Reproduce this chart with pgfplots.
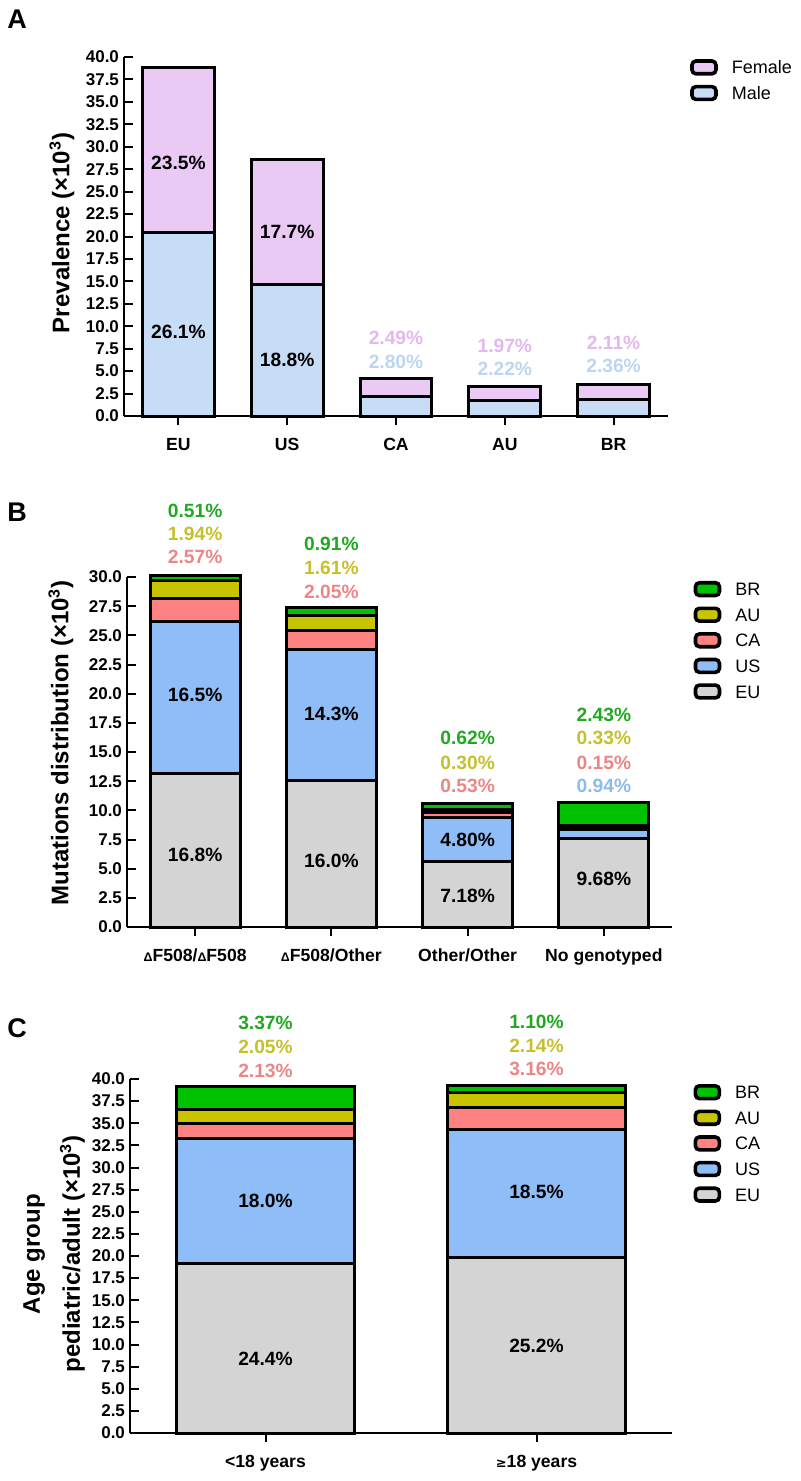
\documentclass[border=0pt]{standalone}
\usepackage{pgfplots}
\pgfplotsset{compat=1.18}
\usepackage{fontspec}
\setmainfont{Liberation Sans}
\newfontfamily\dejavu{DejaVu Sans}

\definecolor{femfill}{HTML}{EBC9F5}
\definecolor{malefill}{HTML}{C7DDF6}
\definecolor{femtxt}{HTML}{E4B8EE}
\definecolor{maletxt}{HTML}{BDD5F0}
\definecolor{eufill}{HTML}{D4D4D4}
\definecolor{usfill}{HTML}{8FBDF8}
\definecolor{cafill}{HTML}{FF8282}
\definecolor{aufill}{HTML}{C8C500}
\definecolor{brfill}{HTML}{00C200}
\definecolor{brtxt}{HTML}{20A820}
\definecolor{autxt}{HTML}{C6C02A}
\definecolor{catxt}{HTML}{EE8585}
\definecolor{ustxt}{HTML}{8DBBEE}

\pgfplotsset{
  panel/.style={
    scale only axis, anchor=south west,
    ybar stacked, bar width=0.66,
    axis lines=left, axis line style={line width=1pt,-},
    tick align=outside, major tick length=4.5pt,
    y tick style={line width=1pt, black, xshift=4.5pt},
    x tick style={line width=1pt, black},
    xtick=data, clip=false, ymin=0,
    tick label style={font=\bfseries\fontsize{8.5}{10}\selectfont},
    yticklabel style={xshift=5.5pt, /pgf/number format/.cd, fixed, fixed zerofill, precision=1, assume math mode=true},
    xticklabel style={yshift=-3pt, font=\bfseries\fontsize{8.8}{10}\selectfont},
    reverse legend, legend cell align=left,
    legend style={draw=none, fill=none, inner sep=0pt, anchor=north west,
      font=\fontsize{9}{10}\selectfont, column sep=7pt, row sep=4.6pt,
      nodes={inner sep=0pt, text height=6.5pt, text depth=0pt}},
  },
  seg/.style={fill=#1, draw=black, line width=1.5pt,
    legend image code/.code={\draw[##1, rounded corners=2pt, line width=1.8pt] (0pt,-3.2pt) rectangle (12pt,3.2pt);}},
}
\newcommand{\pl}[3]{\node[font=\bfseries\fontsize{9.6}{10}\selectfont, text=#3] at (axis cs:#1) {#2};}

\begin{document}
\begin{tikzpicture}
\path[use as bounding box] (0,0) rectangle (400pt,-740.5pt);

% ---- A
\begin{axis}[panel, at={(62pt,-208pt)}, width=272pt, height=179.5pt,
  xmin=-0.5, xmax=4.5, ymax=40,
  ytick={0,2.5,5,7.5,10,12.5,15,17.5,20,22.5,25,27.5,30,32.5,35,37.5,40},
  xticklabels={EU,US,CA,AU,BR},
  legend style={at={(1.04,0.995)}},
  after end axis/.code={
    \pl{0,28.2}{23.5\%}{black}
    \pl{0,9.4}{26.1\%}{black}
    \pl{1,20.5}{17.7\%}{black}
    \pl{1,6.2}{18.8\%}{black}
    \pl{2,8.7}{2.49\%}{femtxt}
    \pl{2,6.0}{2.80\%}{maletxt}
    \pl{3,7.8}{1.97\%}{femtxt}
    \pl{3,5.3}{2.22\%}{maletxt}
    \pl{4,8.1}{2.11\%}{femtxt}
    \pl{4,5.6}{2.36\%}{maletxt}
  }]
\addplot[seg=malefill] coordinates {(0,20.4) (1,14.7) (2,2.19) (3,1.74) (4,1.85)};
\addplot[seg=femfill] coordinates {(0,18.4) (1,13.85) (2,1.95) (3,1.54) (4,1.65)};
\legend{Male,Female}
\end{axis}

% ---- B
\begin{axis}[panel, at={(63.5pt,-463.5pt)}, width=272.5pt, height=175pt,
  xmin=-0.5, xmax=3.5, ymax=30,
  ytick={0,2.5,5,7.5,10,12.5,15,17.5,20,22.5,25,27.5,30},
  xticklabels={{{\fontsize{6.2}{6}\selectfont Δ}F508/{\fontsize{6.2}{6}\selectfont Δ}F508},{{\fontsize{6.2}{6}\selectfont Δ}F508/Other},Other/Other,No genotyped},
  legend style={at={(1.039,0.99)}},
  after end axis/.code={
    \pl{0,35.7}{0.51\%}{brtxt}
    \pl{0,33.7}{1.94\%}{autxt}
    \pl{0,31.7}{2.57\%}{catxt}
    \pl{0,19.9}{16.5\%}{black}
    \pl{0,6.2}{16.8\%}{black}
    \pl{1,32.8}{0.91\%}{brtxt}
    \pl{1,30.8}{1.61\%}{autxt}
    \pl{1,28.7}{2.05\%}{catxt}
    \pl{1,18.3}{14.3\%}{black}
    \pl{1,5.7}{16.0\%}{black}
    \pl{2,16.2}{0.62\%}{brtxt}
    \pl{2,14.1}{0.30\%}{autxt}
    \pl{2,12.1}{0.53\%}{catxt}
    \pl{2,7.5}{4.80\%}{black}
    \pl{2,2.7}{7.18\%}{black}
    \pl{3,18.2}{2.43\%}{brtxt}
    \pl{3,16.2}{0.33\%}{autxt}
    \pl{3,14.1}{0.15\%}{catxt}
    \pl{3,12.1}{0.94\%}{ustxt}
    \pl{3,4.1}{9.68\%}{black}
  }]
\addplot[seg=eufill] coordinates {(0,13.2) (1,12.58) (2,5.64) (3,7.61)};
\addplot[seg=usfill] coordinates {(0,12.97) (1,11.24) (2,3.77) (3,0.74)};
\addplot[seg=cafill] coordinates {(0,2.02) (1,1.61) (2,0.42) (3,0.12)};
\addplot[seg=aufill] coordinates {(0,1.52) (1,1.27) (2,0.24) (3,0.26)};
\addplot[seg=brfill] coordinates {(0,0.40) (1,0.72) (2,0.49) (3,1.91)};
\legend{EU,US,CA,AU,BR}
\end{axis}

% ---- C
\begin{axis}[panel, at={(65pt,-716.5pt)}, width=271pt, height=177pt,
  xmin=-0.5, xmax=1.5, ymax=40,
  ytick={0,2.5,5,7.5,10,12.5,15,17.5,20,22.5,25,27.5,30,32.5,35,37.5,40},
  xticklabels={<18 years,{{\dejavu\fontsize{6.5}{7}\selectfont ≥}18 years}},
  legend style={at={(1.039,0.987)}},
  after end axis/.code={
    \pl{0,46.3}{3.37\%}{brtxt}
    \pl{0,43.6}{2.05\%}{autxt}
    \pl{0,40.9}{2.13\%}{catxt}
    \pl{0,26.2}{18.0\%}{black}
    \pl{0,8.4}{24.4\%}{black}
    \pl{1,46.5}{1.10\%}{brtxt}
    \pl{1,43.8}{2.14\%}{autxt}
    \pl{1,41.1}{3.16\%}{catxt}
    \pl{1,27.3}{18.5\%}{black}
    \pl{1,9.8}{25.2\%}{black}
  }]
\addplot[seg=eufill] coordinates {(0,19.15) (1,19.78)};
\addplot[seg=usfill] coordinates {(0,14.13) (1,14.52)};
\addplot[seg=cafill] coordinates {(0,1.67) (1,2.48)};
\addplot[seg=aufill] coordinates {(0,1.61) (1,1.68)};
\addplot[seg=brfill] coordinates {(0,2.65) (1,0.86)};
\legend{EU,US,CA,AU,BR}
\end{axis}

% panel letters and y labels
\node[font=\bfseries\fontsize{13.5}{14}\selectfont] at (8.5pt,-9.75pt) {A};
\node[font=\bfseries\fontsize{13.5}{14}\selectfont] at (8.5pt,-256pt) {B};
\node[font=\bfseries\fontsize{13.5}{14}\selectfont] at (8.5pt,-514pt) {C};
\node[font=\bfseries\fontsize{12}{14}\selectfont, rotate=90] at (31pt,-116.5pt) {Prevalence (×10\textsuperscript{3})};
\node[font=\bfseries\fontsize{12}{14}\selectfont, rotate=90] at (30.5pt,-371.5pt) {Mutations distribution (×10\textsuperscript{3})};
\node[font=\bfseries\fontsize{12}{20}\selectfont, rotate=90, align=center] at (27pt,-627pt) {Age group\\pediatric/adult (×10\textsuperscript{3})};
\end{tikzpicture}
\end{document}
